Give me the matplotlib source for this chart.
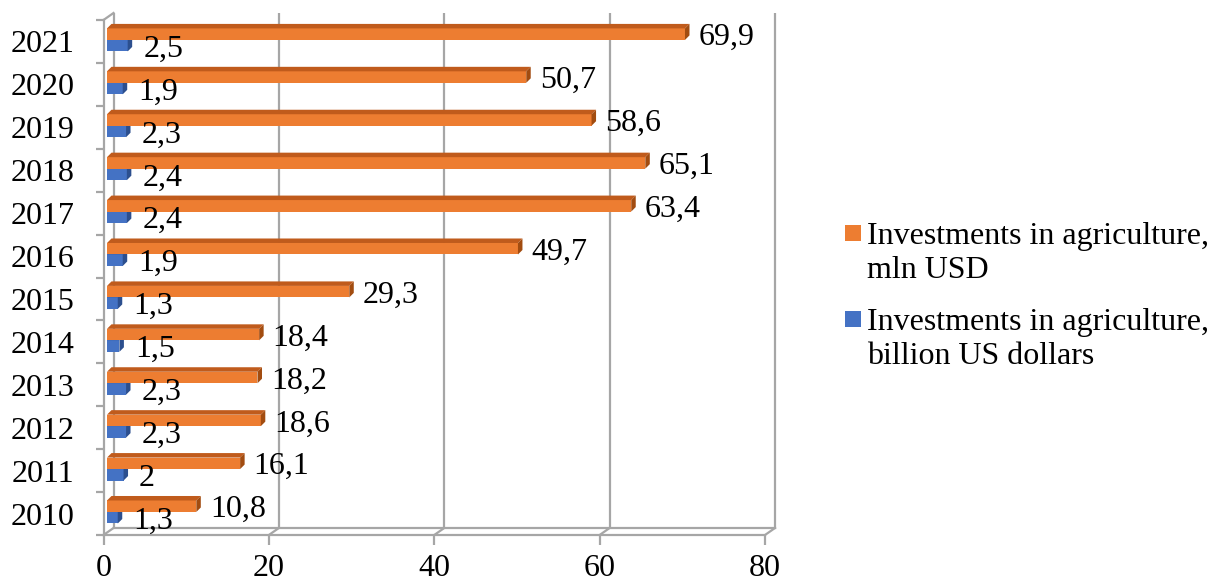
import matplotlib
matplotlib.use("Agg")
import matplotlib.pyplot as plt
from matplotlib.patches import Polygon, Rectangle

# ---- data ----
years = ["2010", "2011", "2012", "2013", "2014", "2015",
         "2016", "2017", "2018", "2019", "2020", "2021"]
invest_mln = [10.8, 16.1, 18.6, 18.2, 18.4, 29.3, 49.7, 63.4, 65.1, 58.6, 50.7, 69.9]
invest_bln = [1.3, 2.0, 2.3, 2.3, 1.5, 1.3, 1.9, 2.4, 2.4, 2.3, 1.9, 2.5]
xticks = [0, 20, 40, 60, 80]
legend_labels = ["Investments in agriculture,\nmln USD",
                 "Investments in agriculture,\nbillion US dollars"]

def fmt(v):
    s = ("%.1f" % v).rstrip("0").rstrip(".")
    return s.replace(".", ",")

# ---- style ----
plt.rcParams['font.family'] = ['Liberation Serif', 'DejaVu Serif']
W, H = 1223, 585
fig = plt.figure(figsize=(W / 100, H / 100), dpi=100)
fig.patch.set_facecolor("white")

L, R, T, B = 103.5, 765.0, 20.0, 535.0
ax = fig.add_axes([L / W, (H - B) / H, (R - L) / W, (B - T) / H])
xmax = 80
n = len(years)
ax.set_xlim(0, xmax)
ax.set_ylim(-0.5, n - 0.5)
ppx = (R - L) / xmax          # pixels per x unit
ppy = (B - T) / n             # pixels per y unit

def dxu(px):
    return px / ppx

def dyu(px):
    return px / ppy

GRID = "#A6A6A6"
ORANGE, ORANGE_TOP, ORANGE_SIDE = "#ED7D31", "#C05B1C", "#A24C10"
BLUE, BLUE_TOP, BLUE_SIDE = "#4472C4", "#3A63AC", "#2C4F8E"

# wall depth offset
wdx, wdy = dxu(10), dyu(7)
ylo, yhi = -0.5, n - 0.5
lw = 1.6
for xv in xticks:
    ax.plot([xv + wdx, xv + wdx], [ylo + wdy, yhi + wdy], color=GRID, lw=lw,
            clip_on=False, zorder=1, solid_capstyle="butt")
    ax.plot([xv, xv + wdx], [ylo, ylo + wdy], color=GRID, lw=lw,
            clip_on=False, zorder=1)
ax.plot([0 + wdx, xmax + wdx], [ylo + wdy, ylo + wdy], color=GRID, lw=lw,
        clip_on=False, zorder=1)
ax.plot([0, wdx], [yhi, yhi + wdy], color=GRID, lw=lw, clip_on=False, zorder=1)

# ---- bars (pseudo 3D) ----
bh = dyu(11.5)
bdx, bdy = dxu(4.5), dyu(4.5)
xshift = dxu(3.5)
off_o = dyu(7.3)
off_b = -dyu(4.2)

def bar3d(y, v, face, top, side, z):
    x0 = xshift
    x1 = xshift + v
    y0, y1 = y - bh / 2, y + bh / 2
    ax.add_patch(Rectangle((x0, y0), v, bh, facecolor=face, edgecolor="none",
                           zorder=z, clip_on=False))
    ax.add_patch(Polygon([(x0, y1), (x1, y1), (x1 + bdx, y1 + bdy), (x0 + bdx, y1 + bdy)],
                         closed=True, facecolor=top, edgecolor="none", zorder=z,
                         clip_on=False))
    ax.add_patch(Polygon([(x1, y0), (x1 + bdx, y0 + bdy), (x1 + bdx, y1 + bdy), (x1, y1)],
                         closed=True, facecolor=side, edgecolor="none", zorder=z,
                         clip_on=False))
    return x1 + bdx

FS = 23
for i in range(n):
    xe = bar3d(i + off_b, invest_bln[i], BLUE, BLUE_TOP, BLUE_SIDE, 3)
    ax.text(xe + dxu(11), i + off_b, fmt(invest_bln[i]), fontsize=FS,
            ha="left", va="center_baseline", zorder=6)
for i in range(n):
    xe = bar3d(i + off_o, invest_mln[i], ORANGE, ORANGE_TOP, ORANGE_SIDE, 4)
    ax.text(xe + dxu(9), i + off_o, fmt(invest_mln[i]), fontsize=FS,
            ha="left", va="center_baseline", zorder=6)

# ---- axes ----
for s in ["top", "right"]:
    ax.spines[s].set_visible(False)
for s in ["left", "bottom"]:
    ax.spines[s].set_color(GRID)
    ax.spines[s].set_linewidth(lw)
    ax.spines[s].set_zorder(2)
ax.set_xticks(xticks)
ax.set_xticklabels([str(t) for t in xticks], fontsize=FS)
ax.set_yticks(range(n))
ax.set_yticklabels(years, fontsize=FS)
ax.set_yticks([k - 0.5 for k in range(n + 1)], minor=True)
ax.tick_params(axis="y", which="major", length=0, pad=21)
ax.tick_params(axis="y", which="minor", length=6, width=lw, color=GRID)
ax.tick_params(axis="x", which="major", length=7.5, width=lw, color=GRID, pad=6)
ax.set_facecolor("none")

# ---- legend (manual) ----
LFS = 23
items = [(ORANGE, legend_labels[0], 225), (BLUE, legend_labels[1], 311)]
for col, lab, ytop in items:
    fig.patches.append(Rectangle((845 / W, (H - ytop - 16) / H), 16 / W, 16 / H,
                                 transform=fig.transFigure, facecolor=col,
                                 edgecolor="none"))
    fig.text(867 / W, (H - ytop + 3) / H, lab, fontsize=LFS, ha="left", va="top",
             linespacing=1.25)

fig.savefig("out.png", dpi=100, facecolor="white")
